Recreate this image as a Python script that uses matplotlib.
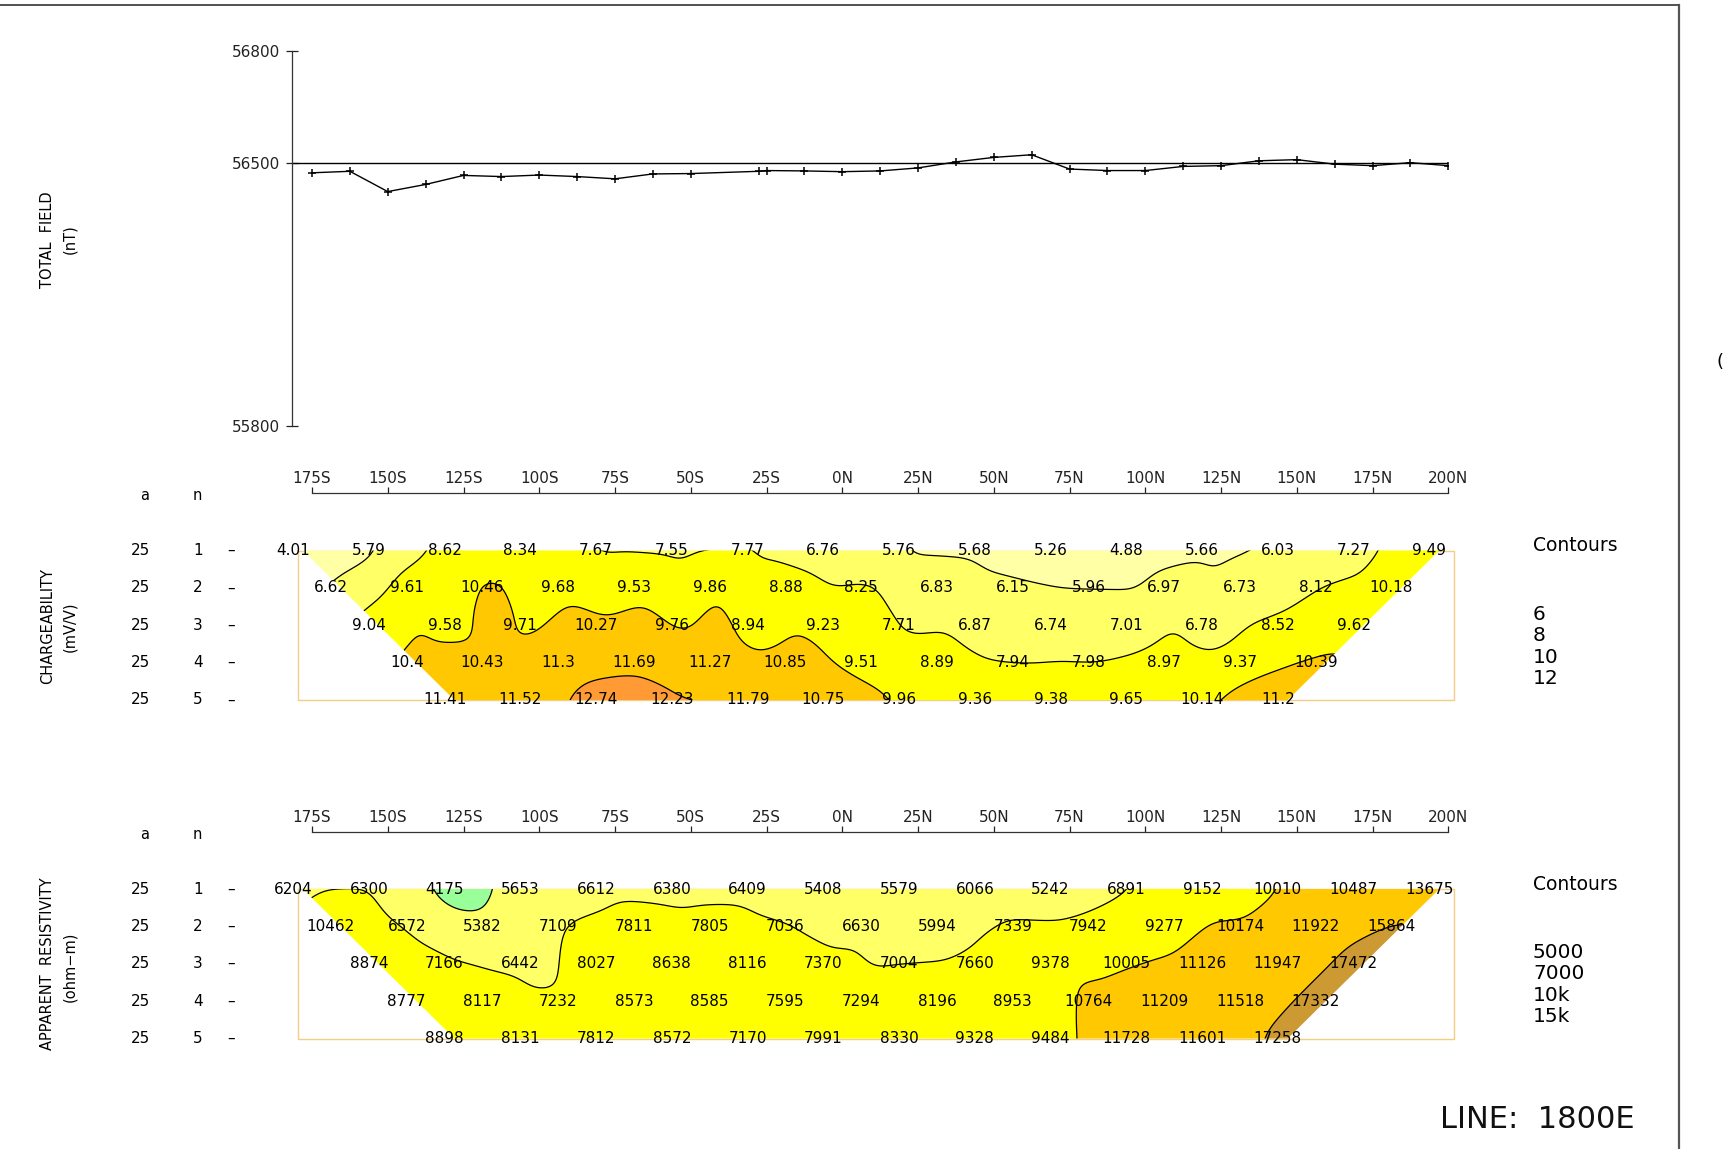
import numpy as np
import matplotlib
matplotlib.use("Agg")
import matplotlib.pyplot as plt
import matplotlib.tri as mtri
from matplotlib.lines import Line2D
from matplotlib.patches import Polygon

plt.rcParams['font.family'] = ['DejaVu Sans']

W, H = 1723, 1149

# ---- magnetometer profile (stations in metres, south negative) ----
mag_stations = [-175, -162.5, -150, -137.5, -125, -112.5, -100, -87.5, -75, -62.5,
                -50, -27.5, -25, -12.5, 0, 12.5, 25, 37.5, 50, 62.5, 75, 87.5,
                100, 112.5, 125, 137.5, 150, 162.5, 175, 187.5, 200]
total_field = [56475, 56479, 56425, 56444, 56468, 56465, 56469, 56465, 56459, 56472,
               56473, 56479, 56481, 56480, 56478, 56480, 56488, 56504, 56516, 56523,
               56485, 56481, 56481, 56492, 56494, 56507, 56510, 56498, 56494, 56502,
               56494]
field_ticks = [55800, 56500, 56800]
field_base = 56500

station_ticks = [-175, -150, -125, -100, -75, -50, -25, 0, 25, 50, 75, 100, 125, 150, 175, 200]
station_labels = ['175S', '150S', '125S', '100S', '75S', '50S', '25S', '0N',
                  '25N', '50N', '75N', '100N', '125N', '150N', '175N', '200N']

# ---- dipole-dipole pseudosections, a = 25 m, n = 1..5 ----
a_spacing = 25
n_values = [1, 2, 3, 4, 5]
first_point = -178.0

chargeability = [
    [4.01, 5.79, 8.62, 8.34, 7.67, 7.55, 7.77, 6.76, 5.76, 5.68, 5.26, 4.88, 5.66, 6.03, 7.27, 9.49],
    [6.62, 9.61, 10.46, 9.68, 9.53, 9.86, 8.88, 8.25, 6.83, 6.15, 5.96, 6.97, 6.73, 8.12, 10.18],
    [9.04, 9.58, 9.71, 10.27, 9.76, 8.94, 9.23, 7.71, 6.87, 6.74, 7.01, 6.78, 8.52, 9.62],
    [10.4, 10.43, 11.3, 11.69, 11.27, 10.85, 9.51, 8.89, 7.94, 7.98, 8.97, 9.37, 10.39],
    [11.41, 11.52, 12.74, 12.23, 11.79, 10.75, 9.96, 9.36, 9.38, 9.65, 10.14, 11.2],
]
resistivity = [
    [6204, 6300, 4175, 5653, 6612, 6380, 6409, 5408, 5579, 6066, 5242, 6891, 9152, 10010, 10487, 13675],
    [10462, 6572, 5382, 7109, 7811, 7805, 7036, 6630, 5994, 7339, 7942, 9277, 10174, 11922, 15864],
    [8874, 7166, 6442, 8027, 8638, 8116, 7370, 7004, 7660, 9378, 10005, 11126, 11947, 17472],
    [8777, 8117, 7232, 8573, 8585, 7595, 7294, 8196, 8953, 10764, 11209, 11518, 17332],
    [8898, 8131, 7812, 8572, 7170, 7991, 8330, 9328, 9484, 11728, 11601, 17258],
]

charge_levels = [6, 8, 10, 12]
charge_level_labels = ['6', '8', '10', '12']
charge_colors = ['#ffffa6', '#ffff66', '#ffff00', '#ffc800', '#ff9a35']

res_levels = [5000, 7000, 10000, 15000]
res_level_labels = ['5000', '7000', '10k', '15k']
res_colors = ['#99ff99', '#ffff66', '#ffff00', '#ffc800', '#cc9933']

FS = 10.5
VAL_FS = 11
LABEL_SHIFT = -3.25   # value labels sit slightly left of their plotting point
ROW_SCALE = 12.33     # vertical row spacing expressed in metres along the line
SIGMA = 3.0           # smoothing radius of the gridded section, metres
X_LEFT, X_RIGHT = -181.5, 200.0
N_TOP = -0.53

fig = plt.figure(figsize=(W / 100, H / 100), dpi=100)


def px_axes(left, top, right, bottom):
    return fig.add_axes([left / W, 1 - bottom / H, (right - left) / W, (bottom - top) / H])


# ---- total field profile ----
ax_mag = px_axes(292.3, 50.7, 1448.3, 426.4)
ax_mag.plot(mag_stations, total_field, color='black', lw=1.0, marker='+', ms=6, mew=1.1)
ax_mag.axhline(field_base, color='black', lw=1.0)
ax_mag.set_xlim(X_LEFT, X_RIGHT)
ax_mag.set_ylim(min(field_ticks), max(field_ticks))
ax_mag.set_xticks([])
ax_mag.set_yticks(field_ticks)
ax_mag.set_yticklabels([str(t) for t in field_ticks])
ax_mag.tick_params(axis='y', direction='inout', length=9, width=0.9, pad=4,
                   labelsize=11, colors='#222222')
for side in ('top', 'right', 'bottom'):
    ax_mag.spines[side].set_visible(False)
ax_mag.spines['left'].set_color('#333333')
ax_mag.spines['left'].set_linewidth(0.9)
ax_mag.patch.set_alpha(0)


def gaussian_smooth(z, valid, sigma_px):
    """Normalised separable Gaussian smoothing that ignores cells outside the data."""
    r = int(np.ceil(3 * sigma_px))
    k = np.exp(-0.5 * (np.arange(-r, r + 1) / sigma_px) ** 2)
    k /= k.sum()

    def conv(a):
        a = np.apply_along_axis(lambda v: np.convolve(v, k, mode='same'), 1, a)
        return np.apply_along_axis(lambda v: np.convolve(v, k, mode='same'), 0, a)

    w = valid.astype(float)
    num = conv(np.where(valid, z, 0.0))
    den = conv(w)
    return np.where(den > 1e-6, num / np.maximum(den, 1e-6), np.nan)


def gridded_section(xs, ys, vals, step=0.5):
    tri = mtri.Triangulation(xs, ys)
    interp = mtri.LinearTriInterpolator(tri, vals)
    gx = np.arange(xs.min() - 4, xs.max() + 4 + step, step)
    gy = np.arange(ys.min() - 4, ys.max() + 4 + step, step)
    X, Y = np.meshgrid(gx, gy)
    zi = interp(X, Y)
    valid = ~np.ma.getmaskarray(zi)
    z = np.ma.filled(zi, 0.0).astype(float)
    zs = gaussian_smooth(z, valid, SIGMA / step)
    return X, Y, zs


def pseudosection(top_px, bottom_px, rows, levels, colors, fmt):
    ax = px_axes(292.3, top_px, 1448.3, bottom_px)
    ax.set_xlim(X_LEFT, X_RIGHT)
    ax.set_ylim(5, N_TOP)
    ax.patch.set_alpha(0)

    xs, ns, vals = [], [], []
    for n, row in zip(n_values, rows):
        for i, v in enumerate(row):
            xs.append(first_point + (n - 1) * a_spacing / 2 + i * a_spacing)
            ns.append(n)
            vals.append(v)
    xs = np.array(xs, float)
    ns = np.array(ns, float)
    vals = np.array(vals, float)

    X, Y, Z = gridded_section(xs, ns * ROW_SCALE, vals)
    Yn = Y / ROW_SCALE

    # trapezoid covered by the measurements
    top_row = ns == n_values[0]
    bot_row = ns == n_values[-1]
    hull = Polygon([(xs[top_row].min(), n_values[0]), (xs[top_row].max(), n_values[0]),
                    (xs[bot_row].max(), n_values[-1]), (xs[bot_row].min(), n_values[-1])],
                   closed=True, transform=ax.transData)

    lev = np.array(levels, float)
    fill_levels = np.concatenate([[np.nanmin(Z) - 1], lev, [np.nanmax(Z) + 1]])
    cf = ax.contourf(X, Yn, Z, levels=fill_levels, colors=colors, antialiased=True, zorder=1)
    cf.set_clip_path(hull)
    cl = ax.contour(X, Yn, Z, levels=lev, colors='black', linewidths=0.9, zorder=2)
    cl.set_clip_path(hull)

    # survey outline
    ax.plot([-179.5, 202, 202, -179.5, -179.5], [1, 1, 5, 5, 1], color='#f3cf86',
            lw=1.0, zorder=0.5, clip_on=False)

    for x, n, v in zip(xs, ns, vals):
        ax.text(x + LABEL_SHIFT, n, fmt(v), ha='center', va='center', fontsize=VAL_FS,
                color='black', zorder=5, clip_on=False)

    # row annotations
    ax.text(-230.1, -0.47, 'a', ha='center', va='center', fontsize=FS, clip_on=False)
    ax.text(-212.7, -0.47, 'n', ha='center', va='center', fontsize=FS, clip_on=False)
    for n in n_values:
        ax.text(-231.6, n, str(a_spacing), ha='center', va='center', fontsize=VAL_FS,
                clip_on=False)
        ax.text(-212.7, n, str(n), ha='center', va='center', fontsize=VAL_FS, clip_on=False)
        ax.text(-201.8, n, '–', ha='center', va='center', fontsize=VAL_FS, clip_on=False)

    # station axis along the top
    for side in ('left', 'right', 'bottom'):
        ax.spines[side].set_visible(False)
    ax.spines['top'].set_bounds(station_ticks[0], station_ticks[-1])
    ax.spines['top'].set_color('#333333')
    ax.spines['top'].set_linewidth(0.9)
    ax.xaxis.tick_top()
    ax.set_xticks(station_ticks)
    ax.set_xticklabels(station_labels)
    ax.tick_params(axis='x', direction='out', length=4.5, width=0.9, pad=0.8,
                   labelsize=11, colors='#222222')
    ax.set_yticks([])
    return ax


ax_ip = pseudosection(493.4, 700.0, chargeability, charge_levels, charge_colors,
                      lambda v: '%g' % v)
ax_rs = pseudosection(831.9, 1038.5, resistivity, res_levels, res_colors,
                      lambda v: '%d' % v)


def ftext(x, y, s, **kw):
    fig.text(x / W, 1 - y / H, s, **kw)


# axis titles
ftext(48, 240, 'TOTAL  FIELD', rotation=90, ha='center', va='center', fontsize=FS)
ftext(70, 239, '(nT)', rotation=90, ha='center', va='center', fontsize=FS)
ftext(48, 626, 'CHARGEABILITY', rotation=90, ha='center', va='center', fontsize=FS)
ftext(70, 627, '(mV/V)', rotation=90, ha='center', va='center', fontsize=FS)
ftext(48, 964, 'APPARENT  RESISTIVITY', rotation=90, ha='center', va='center', fontsize=FS)
ftext(70, 967, '(ohm−m)', rotation=90, ha='center', va='center', fontsize=FS)

# contour keys
ftext(1533, 546, 'Contours', ha='left', va='center', fontsize=13.5)
for y, s in zip([614.3, 635.2, 657.1, 678.0], charge_level_labels):
    ftext(1533, y, s, ha='left', va='center', fontsize=14.5)
ftext(1533, 884.6, 'Contours', ha='left', va='center', fontsize=13.5)
for y, s in zip([952.7, 973.6, 995.6, 1016.5], res_level_labels):
    ftext(1533, y, s, ha='left', va='center', fontsize=14.5)

ftext(1440, 1120, 'LINE:  1800E', ha='left', va='center', fontsize=22, color='#111111')
ftext(1716, 362, '(', ha='left', va='center', fontsize=13)

# sheet border
fig.add_artist(Line2D([0, 1679 / W], [1 - 5 / H, 1 - 5 / H], transform=fig.transFigure,
                      color='#333333', lw=1.2))
fig.add_artist(Line2D([1679 / W, 1679 / W], [1 - 5 / H, 0], transform=fig.transFigure,
                      color='#555555', lw=1.6))

fig.savefig('out.png', dpi=100, facecolor='white')
